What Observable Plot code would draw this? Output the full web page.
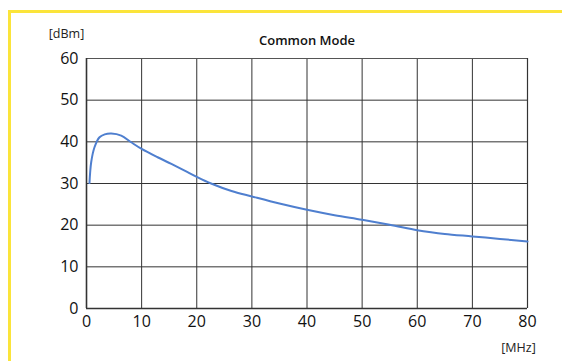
<!DOCTYPE html>
<html>
<head>
<meta charset="utf-8">
<script src="https://cdn.jsdelivr.net/npm/d3@7"></script>
<script src="https://cdn.jsdelivr.net/npm/@observablehq/plot@0.6"></script>
<style>
  html, body { margin: 0; padding: 0; background: #fff; }
  #wrap { position: relative; width: 562px; height: 361px; overflow: hidden; font-family: "Open Sans", sans-serif; }
  #frame { position: absolute; left: 8px; top: 10px; width: 700px; height: 500px; border-top: 3px solid #fbe43a; border-left: 3px solid #fbe43a; pointer-events: none; }
</style>
</head>
<body>
<div id="wrap"><div id="frame"></div></div>
<script>
const freqMHz = [0.54, 0.85, 1.45, 2.36, 3.3, 4.5, 6.3, 8.1, 10, 12.9, 15.4, 17.8, 20, 22.6, 26.3, 30, 35, 40, 45, 50, 55, 60, 62.5, 65, 70, 75, 80];
const levelDbm = [30.1, 35.1, 38.7, 41.1, 41.8, 42.0, 41.5, 39.9, 38.3, 36.3, 34.7, 33.1, 31.6, 30.0, 28.2, 26.9, 25.2, 23.7, 22.4, 21.3, 20.1, 18.8, 18.3, 17.9, 17.3, 16.7, 16.1];
const xTicks = [0, 10, 20, 30, 40, 50, 60, 70, 80];
const yTicks = [0, 10, 20, 30, 40, 50, 60];
const title = "Common Mode";
const yUnit = "[dBm]";
const xUnit = "[MHz]";

const data = freqMHz.map((f, i) => ({f, v: levelDbm[i]}));
const gridColor = "#333";

const chart = Plot.plot({
  width: 562,
  height: 361,
  marginLeft: 86,
  marginRight: 35,
  marginTop: 58,
  marginBottom: 53,
  style: {background: "transparent", fontFamily: "'Open Sans', sans-serif", fontSize: "16px", color: "#111"},
  x: {domain: [0, 80], ticks: xTicks, label: null},
  y: {domain: [0, 60], ticks: yTicks, label: null},
  marks: [
    Plot.gridX(xTicks.slice(1, -1), {stroke: gridColor, strokeOpacity: 1, strokeWidth: 1}),
    Plot.gridY(yTicks.slice(1, -1), {stroke: gridColor, strokeOpacity: 1, strokeWidth: 1}),
    Plot.ruleY([60], {stroke: "#555", strokeWidth: 1.2}),
    Plot.ruleX([80], {stroke: gridColor, strokeWidth: 1.2}),
    Plot.ruleX([0], {stroke: gridColor, strokeWidth: 1.6}),
    Plot.ruleY([0], {stroke: gridColor, strokeWidth: 1.6}),
    Plot.axisX({ticks: xTicks, tickSize: 0, tickPadding: 7, fontSize: 16, label: null}),
    Plot.axisY({ticks: yTicks, tickSize: 0, tickPadding: 8, fontSize: 16, label: null}),
    Plot.line(data, {x: "f", y: "v", stroke: "#4f7fcf", strokeWidth: 2, curve: "catmull-rom"}),
    Plot.text([yUnit], {frameAnchor: "top-left", textAnchor: "middle", lineAnchor: "middle", dx: -20, dy: -25, fontSize: 12.5, fill: "#222"}),
    Plot.text([title], {frameAnchor: "top", textAnchor: "middle", lineAnchor: "middle", dy: -18, fontSize: 13, fontWeight: 600, fill: "#111"}),
    Plot.text([xUnit], {frameAnchor: "bottom-right", textAnchor: "middle", lineAnchor: "middle", dx: -9, dy: 39, fontSize: 12.5, fill: "#222"})
  ]
});
document.getElementById("wrap").insertBefore(chart, document.getElementById("frame"));
</script>
</body>
</html>
